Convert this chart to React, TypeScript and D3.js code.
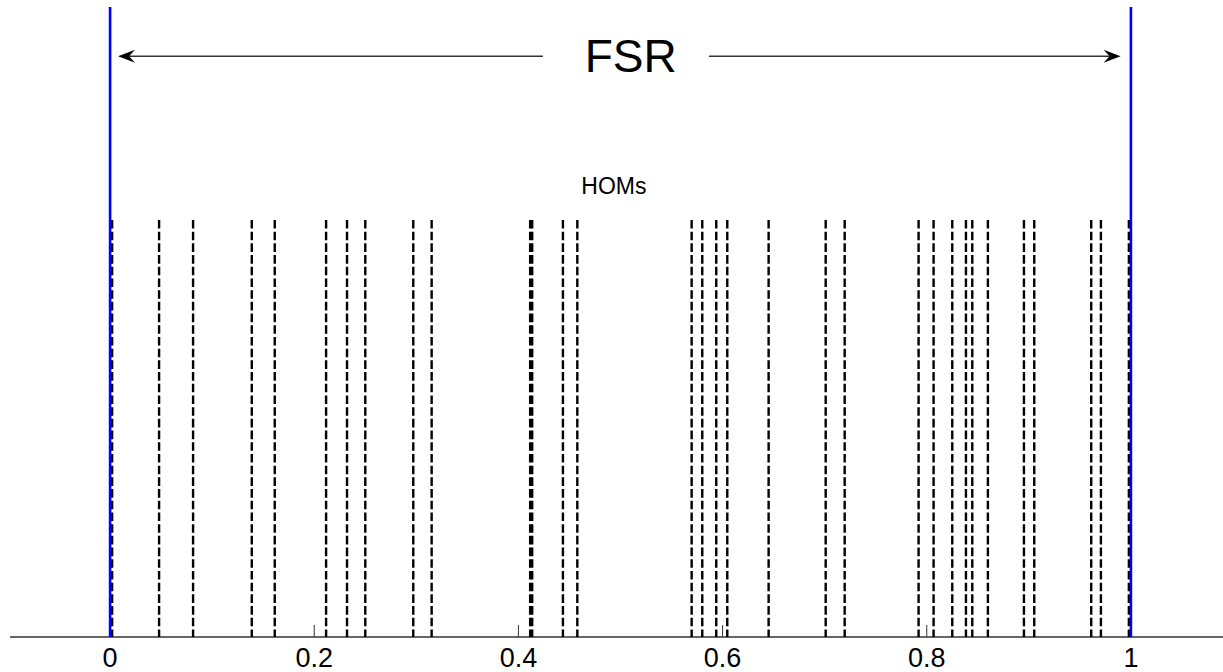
import React from "react";
import * as d3 from "d3";

const homPositions = [
  0.002, 0.048, 0.0813, 0.1388, 0.1613, 0.2116, 0.2321, 0.25, 0.297, 0.315,
  0.4115, 0.4135, 0.4436, 0.4577, 0.5697, 0.5801, 0.5938, 0.6046, 0.6451,
  0.701, 0.7196, 0.792, 0.8067, 0.825, 0.8384, 0.8446, 0.8599, 0.8952,
  0.9053, 0.9611, 0.9706, 0.998,
];
const fsrEdges = [0, 1];
const tickValues = [0, 0.2, 0.4, 0.6, 0.8, 1];
const tickLabels = ["0", "0.2", "0.4", "0.6", "0.8", "1"];
const homHeight = 0.662;
const arrowY = 0.922;
const arrowLeft = [0.0078, 0.424];
const arrowRight = [0.5867, 0.9899];
const fsrLabel = { text: "FSR", x: 0.51, y: 0.897 };
const homLabel = { text: "HOMs", x: 0.4935, y: 0.703 };

const W = 1223;
const H = 672;

export default function App() {
  const x = d3.scaleLinear().domain([-0.1, 1.1]).range([8, 1233]);
  const y = d3.scaleLinear().domain([0, 1]).range([637, 7]);
  const font = "Arial, 'Liberation Sans', Helvetica, sans-serif";

  const arrowHead = (tipX: number, ay: number, dir: number) => {
    const L = 17, h = 6.5, n = 11;
    return `M${tipX},${ay} L${tipX + dir * L},${ay - h} L${tipX + dir * n},${ay} L${tipX + dir * L},${ay + h} Z`;
  };

  return (
    <svg
      width={W}
      height={H}
      style={{ position: "absolute", left: 0, top: 0, background: "#fff" }}
    >
      <rect x={0} y={0} width={W} height={H} fill="#fff" />
      <line x1={x(-0.1) + 2} x2={W} y1={y(0)} y2={y(0)} stroke="#333" strokeWidth={1.6} />
      {tickValues.map((t, i) => (
        <g key={"t" + i}>
          <line x1={x(t)} x2={x(t)} y1={y(0)} y2={y(0) - 12} stroke="#333" strokeWidth={1} />
          <text
            x={x(t)}
            y={667}
            textAnchor="middle"
            fontFamily={font}
            fontSize={27}
            fill="#000"
          >
            {tickLabels[i]}
          </text>
        </g>
      ))}
      {homPositions.map((p, i) => (
        <line
          key={"h" + i}
          x1={x(p)}
          x2={x(p)}
          y1={y(homHeight)}
          y2={y(0)}
          stroke="#000"
          strokeWidth={2.4}
          strokeDasharray="8.6,3.1"
        />
      ))}
      {fsrEdges.map((p, i) => (
        <line
          key={"f" + i}
          x1={x(p)}
          x2={x(p)}
          y1={y(1)}
          y2={y(0)}
          stroke="#0000ff"
          strokeWidth={2.6}
        />
      ))}
      <line
        x1={x(arrowLeft[0]) + 10}
        x2={x(arrowLeft[1])}
        y1={y(arrowY)}
        y2={y(arrowY)}
        stroke="#333"
        strokeWidth={1.5}
      />
      <path d={arrowHead(x(arrowLeft[0]), y(arrowY), 1)} fill="#000" />
      <line
        x1={x(arrowRight[0])}
        x2={x(arrowRight[1]) - 10}
        y1={y(arrowY)}
        y2={y(arrowY)}
        stroke="#333"
        strokeWidth={1.5}
      />
      <path d={arrowHead(x(arrowRight[1]), y(arrowY), -1)} fill="#000" />
      <text
        x={x(fsrLabel.x)}
        y={y(fsrLabel.y)}
        textAnchor="middle"
        fontFamily={font}
        fontSize={46}
        fill="#000"
      >
        {fsrLabel.text}
      </text>
      <text
        x={x(homLabel.x)}
        y={y(homLabel.y)}
        textAnchor="middle"
        fontFamily={font}
        fontSize={23}
        fill="#000"
      >
        {homLabel.text}
      </text>
    </svg>
  );
}
